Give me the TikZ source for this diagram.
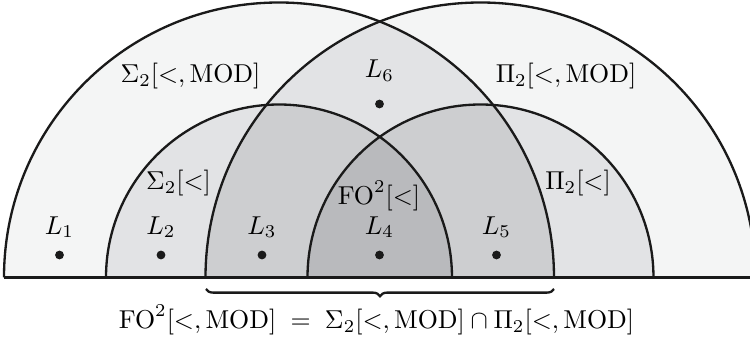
\documentclass[tikz,border=0pt]{standalone}
\usepackage{amsmath,amssymb}
\usepackage{tikz}
\usetikzlibrary{positioning,decorations.pathreplacing}
\definecolor{shadeA}{HTML}{F4F5F5}
\definecolor{shadeB}{HTML}{E2E3E5}
\definecolor{shadeC}{HTML}{CDCED0}
\definecolor{shadeD}{HTML}{B9BABD}
\definecolor{ink}{HTML}{1A1A1A}
\tikzset{
  rim/.style={draw=ink,line width=0.9pt},
  pt/.style={circle,fill=ink,inner sep=0pt,minimum size=3.4pt},
  lab/.style={inner sep=1pt},
  brace/.style={decorate,decoration={brace,amplitude=2.8pt,mirror},draw=ink,line width=0.9pt},
}
% the four half discs
\def\bigleft{(4,64.5) arc (180:0:275) -- cycle}
\def\bigright{(205.5,64.5) arc (180:0:275) -- cycle}
\def\smallleft{(106,64.5) arc (180:0:173) -- cycle}
\def\smallright{(307.5,64.5) arc (180:0:173) -- cycle}

\begin{document}
\begin{tikzpicture}[x=0.0136cm,y=0.0136cm,font=\fontsize{9.6}{11}\selectfont]
  \clip (0,0) rectangle (750,342);
  % shading, darker where more classes overlap
  \fill[shadeA] \bigleft;
  \fill[shadeA] \bigright;
  \begin{scope} \clip \bigleft; \fill[shadeB] \bigright; \end{scope}
  \fill[shadeB] \smallleft;
  \fill[shadeB] \smallright;
  \begin{scope} \clip \smallleft; \fill[shadeC] \bigright; \end{scope}
  \begin{scope} \clip \smallright; \fill[shadeC] \bigleft; \end{scope}
  \begin{scope} \clip \smallleft; \fill[shadeD] \smallright; \end{scope}
  % outlines
  \draw[rim] (4,64.5) arc (180:0:275);
  \draw[rim] (205.5,64.5) arc (180:0:275);
  \draw[rim] (106,64.5) arc (180:0:173);
  \draw[rim] (307.5,64.5) arc (180:0:173);
  \draw[rim] (4,64.5) -- (755,64.5);
  % class names
  \node[lab] (sbig) at (190.5,266) {$\Sigma_2[<,\mathrm{MOD}]$};
  \node[lab] (pbig) at (566,266) {$\Pi_2[<,\mathrm{MOD}]$};
  \node[lab] (ssmall) at (178.5,158.5) {$\Sigma_2[<]$};
  \node[lab] (psmall) at (578,158.5) {$\Pi_2[<]$};
  \node[lab] (fo) at (379,146) {$\mathrm{FO}^2[<]$};
  % languages
  \node[pt] (d1) at (59.5,87) {};
  \node[pt] (d2) at (161,87) {};
  \node[pt] (d3) at (262,87) {};
  \node[pt] (d4) at (379.5,87) {};
  \node[pt] (d5) at (496.5,87) {};
  \node[pt] (d6) at (379.5,238) {};
  \foreach \i in {1,...,5}{ \node[lab,above=3.5pt of d\i] (l\i) {$L_\i$}; }
  \node[lab,above=5.5pt of d6] (l6) {$L_6$};
  % intersection brace
  \coordinate (bl) at (206,53);
  \coordinate (br) at (554,53);
  \draw[brace] (bl) -- (br);
  \node[lab] (eq) at (376.5,22) {$\mathrm{FO}^2[<,\mathrm{MOD}]\;=\;\Sigma_2[<,\mathrm{MOD}]\cap\Pi_2[<,\mathrm{MOD}]$};
\end{tikzpicture}
\end{document}
